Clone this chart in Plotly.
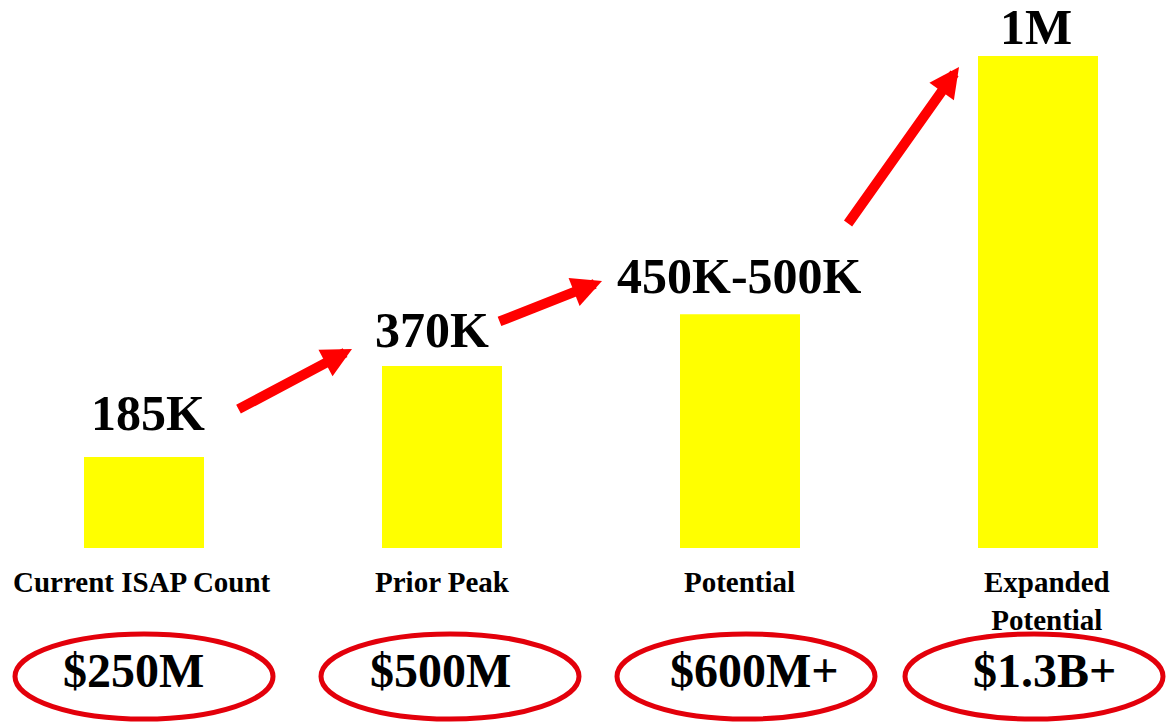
import plotly.graph_objects as go

# Data (counts in thousands)
categories = ["Current ISAP Count", "Prior Peak", "Potential", "Expanded<br>Potential"]
counts_k = [185, 370, 475, 1000]
count_labels = ["185K", "370K", "450K-500K", "1M"]
revenue_labels = ["$250M", "$500M", "$600M+", "$1.3B+"]

BAR_COLOR = "#ffff00"
ARROW_COLOR = "#ff0000"
RING_COLOR = "#e3000b"
FONT = "Liberation Serif, Times New Roman, serif"

# page puts the figure 8px in from the top-left corner
OFF = 8
W, H = 1174 - OFF, 723 - OFF

# reference geometry: bar base at y=548 px, 0.492 px per 1K, bars 298 px apart
PX_PER_K = 0.492
BASE_PX = 548 - OFF
X0_PX = 144 - OFF
STEP_PX = 298


def px_to_y(py):
    return (BASE_PX - (py - OFF)) / PX_PER_K


def px_to_x(px):
    return (px - OFF - X0_PX) / STEP_PX


x_pos = list(range(len(categories)))

fig = go.Figure()
fig.add_trace(go.Bar(
    x=x_pos,
    y=counts_k,
    width=120 / STEP_PX,
    marker=dict(color=BAR_COLOR, line=dict(width=0)),
    hoverinfo="skip",
))

# value labels above bars (pixel offset of label centre above bar top)
label_shift = [44, 36, 38, 29]
label_dx = [4, -10, -1, -2]
for i, (v, t) in enumerate(zip(counts_k, count_labels)):
    fig.add_annotation(
        x=i, y=v, xref="x", yref="y", text=f"<b>{t}</b>", showarrow=False,
        yanchor="middle", yshift=label_shift[i], xshift=label_dx[i],
        font=dict(family=FONT, size=50, color="black"),
    )

# category names below the bars
cat_dx = [-2, 0, -1, 9]
for i, c in enumerate(categories):
    fig.add_annotation(
        x=i, y=0, xref="x", yref="y", text=f"<b>{c}</b>", showarrow=False,
        yanchor="top", yshift=-16, xshift=cat_dx[i],
        font=dict(family=FONT, size=29, color="black"),
    )

# revenue ellipses and figures (centres in reference pixels)
ring_cx = [144, 450, 746, 1034]
text_cx = [133, 440, 754, 1044]
for i, r in enumerate(revenue_labels):
    fig.add_shape(
        type="circle", xref="x", yref="y",
        x0=px_to_x(ring_cx[i] - 129), x1=px_to_x(ring_cx[i] + 129),
        y0=px_to_y(634), y1=px_to_y(719),
        line=dict(color=RING_COLOR, width=5),
    )
    fig.add_annotation(
        x=px_to_x(text_cx[i]), y=px_to_y(670), xref="x", yref="y",
        text=f"<b>{r}</b>", showarrow=False, yanchor="middle",
        font=dict(family=FONT, size=48, color="black"),
    )

# growth arrows between bars (tail -> tip, reference pixels)
arrows = [
    ((237, 410), (352, 349)),
    ((498, 322), (602, 281)),
    ((847, 225), (959, 67)),
]
for (tx, ty), (hx, hy) in arrows:
    fig.add_annotation(
        x=px_to_x(hx), y=px_to_y(hy), ax=px_to_x(tx), ay=px_to_y(ty),
        xref="x", yref="y", axref="x", ayref="y",
        text="", showarrow=True, arrowhead=2, arrowsize=0.6, arrowwidth=10,
        arrowcolor=ARROW_COLOR, standoff=0,
    )

fig.update_layout(
    width=W,
    height=H,
    margin=dict(l=0, r=0, t=0, b=0),
    paper_bgcolor="white",
    plot_bgcolor="white",
    showlegend=False,
    xaxis=dict(range=[px_to_x(OFF), px_to_x(OFF + W)], visible=False, fixedrange=True),
    yaxis=dict(range=[px_to_y(OFF + H), px_to_y(OFF)], visible=False, fixedrange=True),
)

fig.write_html("out.html")
